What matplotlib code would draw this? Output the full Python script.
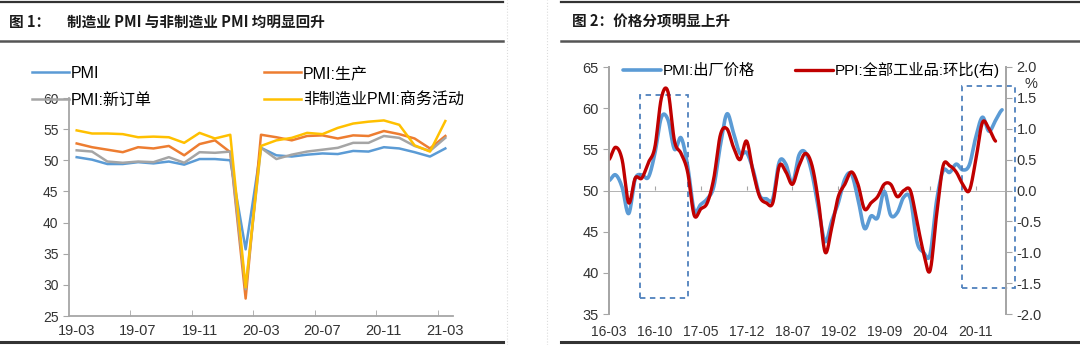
import numpy as np
import matplotlib
matplotlib.use("Agg")
import matplotlib.pyplot as plt
from matplotlib.lines import Line2D
from matplotlib.patches import Rectangle

plt.rcParams['font.family'] = ['Liberation Sans', 'Noto Sans CJK SC', 'DejaVu Sans']
plt.rcParams['axes.unicode_minus'] = False

# ---- left chart data: 2019-03 .. 2021-03 ----
months1 = ['19-03', '19-04', '19-05', '19-06', '19-07', '19-08', '19-09', '19-10', '19-11', '19-12',
           '20-01', '20-02', '20-03', '20-04', '20-05', '20-06', '20-07', '20-08', '20-09', '20-10',
           '20-11', '20-12', '21-01', '21-02', '21-03']
pmi = [50.5, 50.1, 49.4, 49.4, 49.7, 49.5, 49.8, 49.3, 50.2, 50.2, 50.0, 35.7, 52.0,
       50.8, 50.6, 50.9, 51.1, 51.0, 51.5, 51.4, 52.1, 51.9, 51.3, 50.6, 51.9]
pmi_prod = [52.7, 52.1, 51.7, 51.3, 52.1, 51.9, 52.3, 50.8, 52.6, 53.2, 51.3, 27.8, 54.1,
            53.7, 53.2, 53.9, 54.0, 53.5, 54.0, 53.9, 54.7, 54.2, 53.5, 51.9, 53.9]
pmi_new = [51.6, 51.4, 49.8, 49.6, 49.8, 49.7, 50.5, 49.6, 51.3, 51.2, 51.4, 29.3, 52.0,
           50.2, 50.9, 51.4, 51.7, 52.0, 52.8, 52.8, 53.9, 53.6, 52.3, 51.5, 53.6]
nonmfg = [54.8, 54.3, 54.3, 54.2, 53.7, 53.8, 53.7, 52.8, 54.4, 53.5, 54.1, 29.6, 52.3,
          53.2, 53.6, 54.4, 54.2, 55.2, 55.9, 56.2, 56.4, 55.7, 52.4, 51.4, 56.3]

# ---- right chart data: 2016-03 .. 2021-03 ----
labels2 = ['16-03', '16-10', '17-05', '17-12', '18-07', '19-02', '19-09', '20-04', '20-11']
pmi_price = [51.2, 51.9, 50.4, 47.2, 51.4, 51.9, 51.6, 54.5, 58.9, 58.6,
             55.0, 56.4, 53.0, 47.6, 48.3, 49.0, 50.5, 55.5, 59.3, 57.0,
             54.5, 54.6, 52.5, 49.4, 49.0, 49.0, 53.5, 53.2, 50.9, 54.3,
             54.6, 52.0, 47.7, 43.8, 46.3, 48.5, 51.4, 52.0, 49.0, 45.4,
             46.9, 46.7, 49.9, 47.0, 47.3, 49.2, 49.0, 43.8, 42.5, 42.2,
             48.7, 52.4, 52.2, 53.2, 52.5, 53.1, 56.5, 58.9, 57.2, 58.5, 59.8]
ppi_mom = [0.5, 0.7, 0.5, -0.2, 0.2, 0.2, 0.45, 0.7, 1.5, 1.6,
           0.8, 0.6, 0.3, -0.4, -0.3, -0.2, 0.2, 0.9, 1.0, 0.7,
           0.5, 0.8, 0.3, -0.1, -0.2, -0.2, 0.4, 0.3, 0.1, 0.4,
           0.6, 0.4, -0.2, -1.0, -0.6, -0.1, 0.1, 0.3, 0.1, -0.3,
           -0.2, -0.1, 0.1, 0.1, -0.1, 0.0, 0.0, -0.5, -1.0, -1.3,
           -0.4, 0.4, 0.4, 0.3, 0.1, 0.0, 0.5, 1.1, 1.0, 0.8]


def smooth(y, n=16):
    # Catmull-Rom curve through the monthly points (like Excel "smoothed line")
    y = np.asarray(y, float)
    p = np.concatenate([[y[0]], y, [y[-1]]])
    t = np.linspace(0, 1, n, endpoint=False)
    xs, ys = [], []
    for k in range(len(y) - 1):
        p0, p1, p2, p3 = p[k], p[k + 1], p[k + 2], p[k + 3]
        seg = 0.5 * (2 * p1 + (-p0 + p2) * t + (2 * p0 - 5 * p1 + 4 * p2 - p3) * t ** 2
                     + (-p0 + 3 * p1 - 3 * p2 + p3) * t ** 3)
        xs.extend(k + t)
        ys.extend(seg)
    xs.append(len(y) - 1)
    ys.append(y[-1])
    return np.array(xs), np.array(ys)


fig = plt.figure(figsize=(10.8, 3.45), dpi=100)
W, H = 1080, 345
axis_col = '#A6A6A6'
txt_col = '#333333'


def fx(px):
    return px / W


def fy(py):
    return 1 - py / H


# ---------------- left chart ----------------
ax1 = fig.add_axes([fx(69), fy(316), fx(453) - fx(69), fy(98) - fy(316)])
x1 = np.arange(len(months1))
l1, = ax1.plot(x1, pmi, color='#5B9BD5', lw=1.8, label='PMI')
l2, = ax1.plot(x1, pmi_prod, color='#ED7D31', lw=1.8, label='PMI:生产')
l3, = ax1.plot(x1, pmi_new, color='#A5A5A5', lw=1.8, label='PMI:新订单')
l4, = ax1.plot(x1, nonmfg, color='#FFC000', lw=1.8, label='非制造业PMI:商务活动')
ax1.set_xlim(-0.5, 24.5)
ax1.set_ylim(25, 60)
ax1.set_yticks(range(25, 61, 5))
ax1.set_xticks(x1[::4])
ax1.set_xticklabels(months1[::4])
ax1.set_xticks(np.arange(3.5, 24, 4), minor=True)
ax1.tick_params(axis='x', which='major', length=0, pad=6, labelsize=10.5, colors=txt_col)
ax1.tick_params(axis='x', which='minor', length=4, direction='in', color=axis_col)
ax1.tick_params(axis='y', length=4, color=axis_col, labelsize=10, colors=txt_col)
for s in ['top', 'right']:
    ax1.spines[s].set_visible(False)
for s in ['left', 'bottom']:
    ax1.spines[s].set_color(axis_col)
    ax1.spines[s].set_linewidth(1.3)

fig.legend(handles=[l1, l3, l2, l4], ncol=2, loc='upper left',
           bbox_to_anchor=(fx(32), fy(66)), frameon=False, fontsize=11.5,
           handlelength=2.3, handletextpad=0.15, columnspacing=7.0,
           labelspacing=0.75, borderpad=0, borderaxespad=0)

# ---------------- right chart ----------------
ax2 = fig.add_axes([fx(609), fy(314), fx(1006) - fx(609), fy(67) - fy(314)])
ax3 = ax2.twinx()
xs_b, ys_b = smooth(pmi_price)
xs_r, ys_r = smooth(ppi_mom)
lb, = ax2.plot(xs_b, ys_b, color='#5B9BD5', lw=2.6, label='PMI:出厂价格', solid_capstyle='round')
lr, = ax3.plot(xs_r, ys_r, color='#C00000', lw=2.4, label='PPI:全部工业品:环比(右)', solid_capstyle='round')
ax2.set_xlim(0, 60.6)
ax2.set_ylim(35, 65)
ax3.set_ylim(-2, 2)
ax2.set_yticks(range(35, 66, 5))
ax3.set_yticks(np.arange(-2, 2.01, 0.5))
ax3.set_yticklabels(['%.1f' % v for v in np.arange(-2, 2.01, 0.5)])
ax2.set_xticks(np.arange(0, 61, 7))
ax2.set_xticklabels(labels2)
ax2.tick_params(axis='x', length=0, pad=8, labelsize=10, colors=txt_col)
ax2.tick_params(axis='y', length=4, color=axis_col, labelsize=10.5, colors=txt_col)
ax3.tick_params(axis='y', length=4, color=axis_col, labelsize=10.5, colors=txt_col)
for a in (ax2, ax3):
    for s in ['top', 'bottom']:
        a.spines[s].set_visible(False)
    for s in ['left', 'right']:
        a.spines[s].set_color(axis_col)
        a.spines[s].set_linewidth(1.3)
ax2.axhline(50, color=axis_col, lw=1.2, zorder=0)
sec = ax2.secondary_xaxis(0.5)
sec.set_xticks(np.arange(7, 61, 7))
sec.set_xticklabels([])
sec.tick_params(length=3, color=axis_col, direction='out')
sec.spines['top'].set_visible(False)
sec.spines['bottom'].set_visible(False)

box_style = dict(fill=False, ec='#4F81BD', lw=1.3, ls=(0, (3, 2.5)), clip_on=False, zorder=5)
ax2.add_patch(Rectangle((4.8, 37.0), 7.3, 24.6, **box_style))
ax2.add_patch(Rectangle((53.9, 38.1), 8.0, 24.6, **box_style))

fig.text(fx(1031), fy(84), '%', ha='center', va='center', fontsize=10.5, color=txt_col)
ax3.legend(handles=[lb, lr], ncol=2, loc='upper left', bbox_to_anchor=(fx(623), fy(62)),
           bbox_transform=fig.transFigure, frameon=False, fontsize=11,
           handlelength=2.5, handletextpad=0.1, columnspacing=2.6,
           borderpad=0, borderaxespad=0)

# ---------------- titles and frames ----------------
tkw = dict(fontsize=10.5, fontweight='bold', color='#1a1a1a', va='center',
           family=['Noto Sans CJK SC', 'DejaVu Sans'])
fig.text(fx(9), fy(22), '图 1：', **tkw)
fig.text(fx(67), fy(22), '制造业 PMI 与非制造业 PMI 均明显回升', **tkw)
fig.text(fx(572), fy(22), '图 2：价格分项明显上升', **tkw)

for (xa, xb) in [(0, 503), (561, 1080)]:
    for yy, lw, c in [(2, 1.6, '#333333'), (41, 1.8, '#555555'), (342, 2.2, '#333333')]:
        fig.add_artist(Line2D([fx(xa), fx(xb)], [fy(yy), fy(yy)], color=c, lw=lw))
for xx in [507, 547]:
    fig.add_artist(Line2D([fx(xx), fx(xx)], [0, 1], color='#dcdcdc', lw=0.8, ls=':'))

fig.savefig('out.png', dpi=100)
